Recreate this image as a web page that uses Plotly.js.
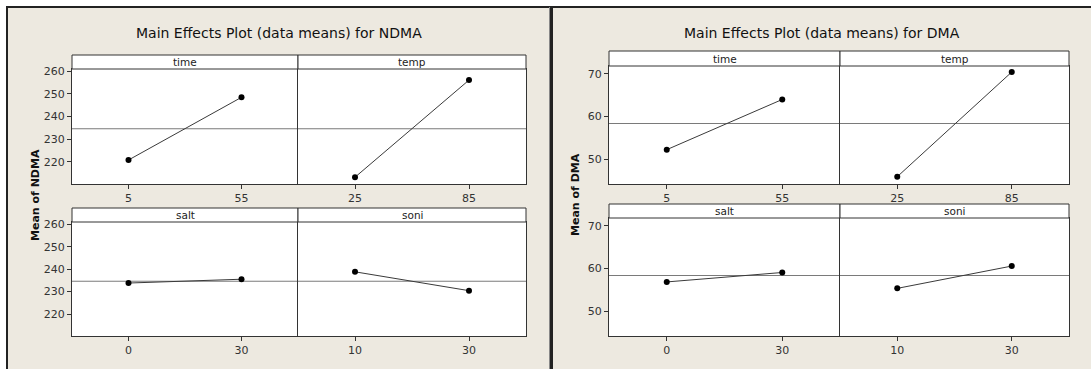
<!DOCTYPE html>
<html>
<head>
<meta charset="utf-8">
<script src="https://cdn.plot.ly/plotly-3.0.1.min.js"></script>
<style>html,body{margin:0;padding:0;background:#fff;}#chart{width:1091px;height:369px;}</style>
</head>
<body>
<div id="chart"></div>
<script>
// ---- data ----
var factors = ["time", "temp", "salt", "soni"];
var levelsTime = ["5", "55"];
var levelsTemp = ["25", "85"];
var levelsSalt = ["0", "30"];
var levelsSoni = ["10", "30"];

var ndmaTime = [220.8, 248.5];
var ndmaTemp = [213.2, 256.1];
var ndmaSalt = [233.8, 235.5];
var ndmaSoni = [238.8, 230.4];
var ndmaMean = 234.6;

var dmaTime = [52.3, 64.0];
var dmaTemp = [46.0, 70.4];
var dmaSalt = [56.9, 59.1];
var dmaSoni = [55.4, 60.6];
var dmaMean = 58.4;

var ndmaTicks = [220, 230, 240, 250, 260];
var dmaTicks = [50, 60, 70];

var titleNDMA = "Main Effects Plot (data means) for NDMA";
var titleDMA = "Main Effects Plot (data means) for DMA";
var ytitleNDMA = "Mean of NDMA";
var ytitleDMA = "Mean of DMA";

// ---- layout helpers ----
var W = 1091, H = 369;
function px(x) { return x / W; }
function py(y) { return 1 - y / H; }

var BEIGE = "#EDE9E0";
var DARK = "#333333";
var FONT = "DejaVu Sans, Verdana, sans-serif";

var levels = [levelsTime, levelsTemp, levelsSalt, levelsSoni];
var ndma = [ndmaTime, ndmaTemp, ndmaSalt, ndmaSoni];
var dma = [dmaTime, dmaTemp, dmaSalt, dmaSoni];

// facet boxes in pixels [x0, x1, y0(top), y1(bottom)]
var boxes = [
  [72, 298, 69, 184], [298, 526, 69, 184], [72, 298, 222, 336], [298, 526, 222, 336],
  [609, 840, 66, 184], [840, 1069, 66, 184], [609, 840, 218, 336], [840, 1069, 218, 336]
];
var strips = [
  [72, 298, 55, 69], [298, 526, 55, 69], [72, 298, 208, 222], [298, 526, 208, 222],
  [609, 840, 51, 66], [840, 1069, 51, 66], [609, 840, 204, 218], [840, 1069, 204, 218]
];
var ndmaRange = [210.2, 261.0];
var dmaRange = [44.3, 71.8];

var layout = {
  width: W, height: H,
  margin: {l: 0, r: 0, t: 0, b: 0, pad: 0},
  paper_bgcolor: "#ffffff",
  plot_bgcolor: "rgba(0,0,0,0)",
  showlegend: false,
  font: {family: FONT, size: 10, color: DARK},
  shapes: [],
  annotations: []
};

// panel backgrounds
layout.shapes.push({type: "rect", xref: "paper", yref: "paper", layer: "below",
  x0: px(7), x1: px(550), y0: py(7), y1: py(372), fillcolor: BEIGE, line: {color: "#222", width: 2}});
layout.shapes.push({type: "rect", xref: "paper", yref: "paper", layer: "below",
  x0: px(552), x1: px(1096), y0: py(7), y1: py(372), fillcolor: BEIGE, line: {color: "#222", width: 2}});
layout.shapes.push({type: "line", xref: "paper", yref: "paper", layer: "below",
  x0: px(549.5), x1: px(549.5), y0: py(7), y1: py(369), line: {color: "#888", width: 1}});

var traces = [];
for (var i = 0; i < 8; i++) {
  var n = i + 1;
  var xa = "xaxis" + (n === 1 ? "" : n), ya = "yaxis" + (n === 1 ? "" : n);
  var xr = "x" + (n === 1 ? "" : n), yr = "y" + (n === 1 ? "" : n);
  var f = i % 4;
  var isN = i < 4;
  var b = boxes[i], s = strips[i];
  var leftFacet = (f % 2 === 0);

  // white plot area
  layout.shapes.push({type: "rect", xref: "paper", yref: "paper", layer: "below",
    x0: px(b[0]), x1: px(b[1]), y0: py(b[2]), y1: py(b[3]), fillcolor: "#ffffff", line: {width: 0}});
  // strip
  layout.shapes.push({type: "rect", xref: "paper", yref: "paper", layer: "above",
    x0: px(s[0]), x1: px(s[1]), y0: py(s[2]), y1: py(s[3]), fillcolor: "#ffffff", line: {color: DARK, width: 1}});
  layout.annotations.push({xref: "paper", yref: "paper", x: px((s[0] + s[1]) / 2), y: py((s[2] + s[3]) / 2),
    text: factors[f], showarrow: false, xanchor: "center", yanchor: "middle",
    font: {family: FONT, size: 10.5, color: "#222"}});
  // grand mean reference line
  layout.shapes.push({type: "line", xref: xr + " domain", yref: yr, layer: "below",
    x0: 0, x1: 1, y0: isN ? ndmaMean : dmaMean, y1: isN ? ndmaMean : dmaMean,
    line: {color: "#7a7a7a", width: 1}});

  layout[xa] = {
    domain: [px(b[0]), px(b[1])], anchor: yr, type: "category",
    categoryorder: "array", categoryarray: levels[f], range: [-0.5, 1.5],
    showline: true, mirror: true, linecolor: DARK, linewidth: 1,
    showgrid: false, zeroline: false, ticks: "outside", ticklen: 4, tickcolor: DARK,
    tickfont: {family: FONT, size: 11, color: "#333"}, fixedrange: true
  };
  layout[ya] = {
    domain: [py(b[3]), py(b[2])], anchor: xr,
    range: isN ? ndmaRange : dmaRange, tickmode: "array",
    tickvals: isN ? ndmaTicks : dmaTicks,
    showline: true, mirror: !leftFacet, linecolor: DARK, linewidth: 1,
    showgrid: false, zeroline: false,
    ticks: leftFacet ? "outside" : "", ticklen: 4, tickcolor: DARK,
    showticklabels: leftFacet,
    tickfont: {family: FONT, size: 11, color: "#333"}, fixedrange: true
  };

  traces.push({
    type: "scatter", mode: "lines+markers", xaxis: xr, yaxis: yr,
    x: levels[f], y: isN ? ndma[f] : dma[f],
    line: {color: "#3a3a3a", width: 1},
    marker: {color: "#000", size: 6},
    hoverinfo: "x+y", cliponaxis: false
  });
}

// titles
layout.annotations.push({xref: "paper", yref: "paper", x: px(278.5), y: py(33), text: titleNDMA,
  showarrow: false, xanchor: "center", yanchor: "middle", font: {family: FONT, size: 14, color: "#111"}});
layout.annotations.push({xref: "paper", yref: "paper", x: px(822), y: py(33), text: titleDMA,
  showarrow: false, xanchor: "center", yanchor: "middle", font: {family: FONT, size: 14, color: "#111"}});
layout.annotations.push({xref: "paper", yref: "paper", x: px(35), y: py(195), text: "<b>" + ytitleNDMA + "</b>",
  showarrow: false, textangle: -90, xanchor: "center", yanchor: "middle", font: {family: FONT, size: 11, color: "#111"}});
layout.annotations.push({xref: "paper", yref: "paper", x: px(575), y: py(195), text: "<b>" + ytitleDMA + "</b>",
  showarrow: false, textangle: -90, xanchor: "center", yanchor: "middle", font: {family: FONT, size: 11, color: "#111"}});

Plotly.newPlot("chart", traces, layout, {staticPlot: true, displayModeBar: false});
</script>
</body>
</html>
